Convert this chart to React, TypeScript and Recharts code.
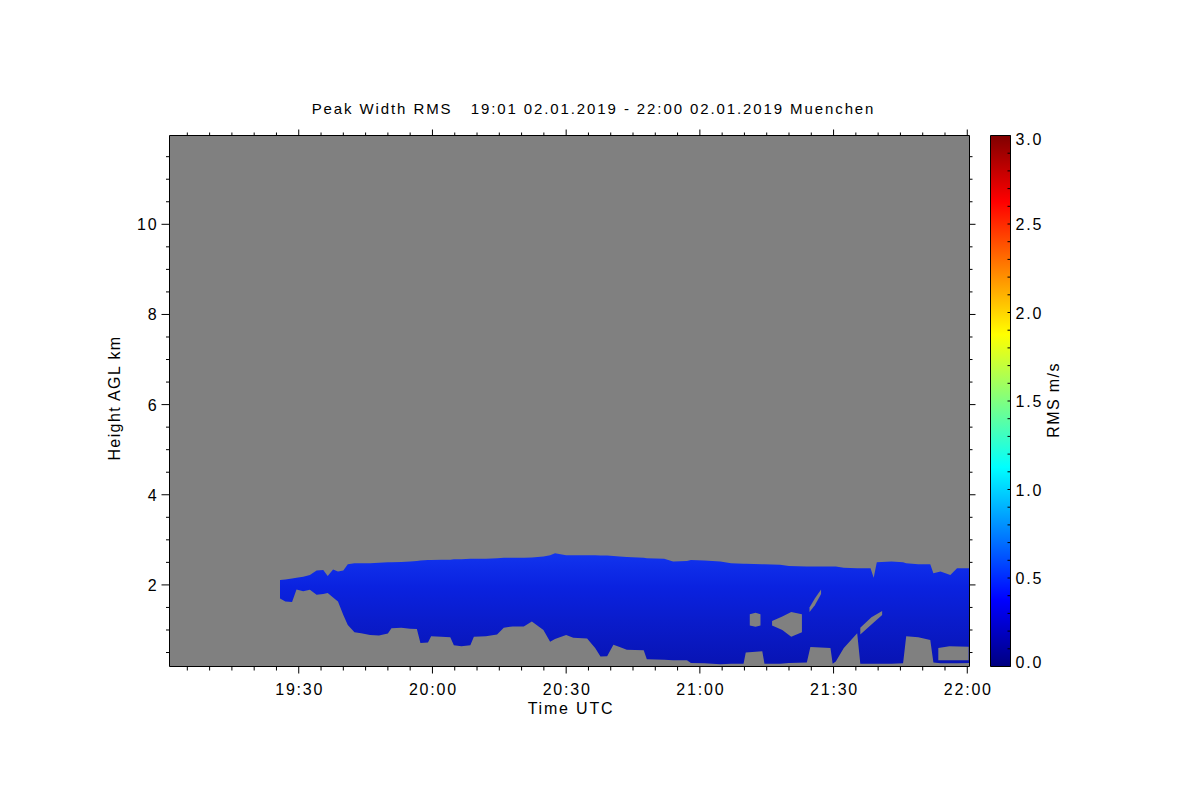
import React from "react";
import { ComposedChart, Area, XAxis, YAxis, CartesianGrid, BarChart, Bar } from "recharts";

const FONT = "'Liberation Sans', Arial, Helvetica, sans-serif";

// plot frame (px)
const PL = 169.5;
const PR = 969.5;
const PT = 135.5;
const PB = 666.5;
const CB_L = 990.5;
const CB_R = 1010.5;

// cloud layer, time in minutes after 19:00 UTC, heights in km AGL
const cloudTimes = [
	25.8, 27, 28.5, 29.5, 31, 32.5, 34, 35.5, 36.5, 37.7, 38.8, 40, 41, 42.5, 44, 46, 48, 50, 50.8,
	53, 55, 56.5, 57.3, 59, 59.7, 62, 64, 64.8, 66.5, 68.5, 69.3, 72, 74.5, 76, 78, 80.5, 82.3, 84.9,
	86.4, 87.5, 90, 91.6, 94.7, 96.5, 97.7, 99.2, 100.6, 102, 103.6, 107.4, 108.1, 112, 114, 117.1,
	118, 121, 124.6, 127, 129.8, 130.3, 134, 134.5, 138, 140, 144, 144.8, 149.3, 149.8, 150.5, 152.3,
	155.3, 156, 158.3, 159, 159.7, 163, 165.6, 166.3, 169, 171.7, 172.4, 174, 176.2, 177.7, 180.5,
];
const cloudTop = [
	2.11, 2.12, 2.14, 2.16, 2.18, 2.22, 2.32, 2.33, 2.2, 2.34, 2.3, 2.32, 2.46, 2.48, 2.48, 2.48, 2.49, 2.5, 2.5,
	2.51, 2.52, 2.53, 2.54, 2.55, 2.55, 2.56, 2.56, 2.57, 2.57, 2.58, 2.58, 2.58, 2.59, 2.6, 2.6, 2.6, 2.61, 2.63,
	2.66, 2.7, 2.66, 2.66, 2.66, 2.66, 2.65, 2.65, 2.64, 2.63, 2.62, 2.6, 2.59, 2.58, 2.52, 2.53,
	2.55, 2.54, 2.52, 2.48, 2.47, 2.47, 2.46, 2.46, 2.45, 2.42, 2.41, 2.41, 2.41, 2.41, 2.41, 2.38,
	2.37, 2.37, 2.37, 2.16, 2.5, 2.52, 2.5, 2.48, 2.46, 2.46, 2.26, 2.3, 2.22, 2.37, 2.37,
];
const cloudBase = [
	1.7, 1.63, 1.62, 1.9, 1.86, 1.89, 1.78, 1.8, 1.82, 1.72, 1.63, 1.33, 1.11, 0.95, 0.93, 0.89, 0.88, 0.92, 1.04,
	1.05, 1.03, 1.02, 0.71, 0.72, 0.86, 0.85, 0.84, 0.66, 0.64, 0.66, 0.85, 0.86, 0.9, 1.05, 1.08, 1.08, 1.19, 1.0,
	0.74, 0.8, 0.89, 0.83, 0.81, 0.6, 0.41, 0.42, 0.67, 0.62, 0.56, 0.55, 0.35, 0.34, 0.33, 0.33,
	0.27, 0.26, 0.24, 0.25, 0.25, 0.5, 0.53, 0.25, 0.25, 0.27, 0.28, 0.62, 0.6, 0.25, 0.3, 0.6,
	0.93, 0.25, 0.25, 0.25, 0.25, 0.25, 0.26, 0.86, 0.84, 0.78, 0.28, 0.26, 0.26, 0.26, 0.27,
];

// gaps without signal inside the layer
const gap1Times = [131.2, 132.5, 133.6];
const gap1Low = [1.1, 1.07, 1.1];
const gap1High = [1.35, 1.38, 1.35];

const gap2Times = [136.2, 138.5, 140.5, 142.9];
const gap2Low = [1.1, 1.0, 0.85, 0.95];
const gap2High = [1.2, 1.3, 1.4, 1.35];

const gap3Times = [144.6, 145.8, 147.2];
const gap3Low = [1.4, 1.55, 1.8];
const gap3High = [1.5, 1.7, 1.9];

const gap4Times = [156, 158.5, 160.9];
const gap4Low = [0.9, 1.12, 1.33];
const gap4High = [1.05, 1.28, 1.42];

const gap5Times = [173.5, 176, 180.3];
const gap5Low = [0.33, 0.33, 0.33];
const gap5High = [0.6, 0.64, 0.63];

// axes
const timeTicks = [
	5, 10, 15, 20, 25, 30, 35, 40, 45, 50, 55, 60, 65, 70, 75, 80, 85, 90, 95, 100, 105, 110, 115, 120,
	125, 130, 135, 140, 145, 150, 155, 160, 165, 170, 175, 180,
];
const majorTimes = [30, 60, 90, 120, 150, 180];
const timeLabels = ["19:30", "20:00", "20:30", "21:00", "21:30", "22:00"];

const heightTicks = [
	0.5, 1, 1.5, 2, 2.5, 3, 3.5, 4, 4.5, 5, 5.5, 6, 6.5, 7, 7.5, 8, 8.5, 9, 9.5, 10, 10.5, 11, 11.5,
];
const heightMajor = [2, 4, 6, 8, 10];
const heightLabels = ["2", "4", "6", "8", "10"];

const rmsTicks = [
	0, 0.1, 0.2, 0.3, 0.4, 0.5, 0.6, 0.7, 0.8, 0.9, 1, 1.1, 1.2, 1.3, 1.4, 1.5, 1.6, 1.7, 1.8, 1.9, 2,
	2.1, 2.2, 2.3, 2.4, 2.5, 2.6, 2.7, 2.8, 2.9, 3,
];
const rmsMajor = [0, 0.5, 1, 1.5, 2, 2.5, 3];
const rmsLabels = ["0.0", "0.5", "1.0", "1.5", "2.0", "2.5", "3.0"];
const colorbar = [{ k: "rms", v: 3 }];

const toRows = (t: number[], lo: number[], hi: number[]) =>
	t.map((v, i) => ({ t: v, range: [lo[i], hi[i]] }));

const findIdx = (list: number[], v: number) => list.findIndex((m) => Math.abs(m - v) < 1e-6);

const txt = { fontFamily: FONT, fontSize: 16, letterSpacing: "1.8px", fill: "#000" };

function BottomTick({ x, y, payload }: any) {
	const i = findIdx(majorTimes, payload.value);
	return (
		<g>
			<line x1={x} x2={x} y1={y} y2={y + (i >= 0 ? 7 : 4)} stroke="#000" />
			{i >= 0 && (
				<text x={x + 1} y={y + 28} textAnchor="middle" style={txt}>
					{timeLabels[i]}
				</text>
			)}
		</g>
	);
}

function TopTick({ x, y, payload }: any) {
	const major = findIdx(majorTimes, payload.value) >= 0;
	return <line x1={x} x2={x} y1={y} y2={y - (major ? 6 : 3)} stroke="#000" />;
}

function LeftTick({ x, y, payload }: any) {
	const i = findIdx(heightMajor, payload.value);
	return (
		<g>
			<line x1={x} x2={x - (i >= 0 ? 8 : 3.5)} y1={y} y2={y} stroke="#000" />
			{i >= 0 && (
				<text x={x - 11} y={y + 6} textAnchor="end" style={txt}>
					{heightLabels[i]}
				</text>
			)}
		</g>
	);
}

function RightTick({ x, y, payload }: any) {
	const major = findIdx(heightMajor, payload.value) >= 0;
	return <line x1={x} x2={x + (major ? 6 : 3)} y1={y} y2={y} stroke="#000" />;
}

function RmsTick({ x, y, payload }: any) {
	const i = findIdx(rmsMajor, payload.value);
	const shift = payload.value === 0 ? -5 : payload.value === 3 ? 3 : 0;
	return (
		<g>
			<line x1={x} x2={x - 3} y1={y} y2={y} stroke="#000" />
			{i >= 0 && (
				<text x={x + 5} y={y + 6 + shift} textAnchor="start" style={txt}>
					{rmsLabels[i]}
				</text>
			)}
		</g>
	);
}

const gapProps = {
	dataKey: "range",
	xAxisId: "b",
	yAxisId: "l",
	type: "linear" as const,
	stroke: "none",
	fill: "#808080",
	fillOpacity: 1,
	isAnimationActive: false,
	dot: false,
	activeDot: false,
};

export default function App() {
	return (
		<div style={{ position: "absolute", left: 0, top: 0, width: 1200, height: 800, background: "#fff" }}>
			<div style={{ position: "absolute", left: 0, top: 0 }}>
				<ComposedChart
					width={1200}
					height={800}
					margin={{ top: PT - 10, right: 1200 - PR - 10, bottom: 800 - PB - 30, left: PL - 40 }}
				>
					<defs>
						<linearGradient id="cloudFill" x1="0" y1="0" x2="0" y2="1">
							<stop offset="0%" stopColor="#1234ee" />
							<stop offset="30%" stopColor="#0a22e0" />
							<stop offset="60%" stopColor="#0a1ccc" />
							<stop offset="100%" stopColor="#0814b4" />
						</linearGradient>
					</defs>
					<CartesianGrid xAxisId="b" yAxisId="l" horizontal={false} vertical={false} fill="#808080" fillOpacity={1} />
					<XAxis
						xAxisId="b"
						dataKey="t"
						type="number"
						domain={[1, 180.5]}
						allowDataOverflow
						ticks={timeTicks}
						interval={0}
						height={30}
						tickSize={0}
						tickMargin={0}
						tickLine={false}
						axisLine={{ stroke: "#000" }}
						tick={<BottomTick />}
					/>
					<XAxis
						xAxisId="t"
						orientation="top"
						dataKey="t"
						type="number"
						domain={[1, 180.5]}
						allowDataOverflow
						ticks={timeTicks}
						interval={0}
						height={10}
						tickSize={0}
						tickMargin={0}
						tickLine={false}
						axisLine={{ stroke: "#000" }}
						tick={<TopTick />}
					/>
					<YAxis
						yAxisId="l"
						type="number"
						domain={[0.19, 11.97]}
						allowDataOverflow
						ticks={heightTicks}
						interval={0}
						width={40}
						tickSize={0}
						tickMargin={0}
						tickLine={false}
						axisLine={{ stroke: "#000" }}
						tick={<LeftTick />}
					/>
					<YAxis
						yAxisId="r"
						orientation="right"
						type="number"
						domain={[0.19, 11.97]}
						allowDataOverflow
						ticks={heightTicks}
						interval={0}
						width={10}
						tickSize={0}
						tickMargin={0}
						tickLine={false}
						axisLine={{ stroke: "#000" }}
						tick={<RightTick />}
					/>
					<Area
						data={toRows(cloudTimes, cloudBase, cloudTop)}
						dataKey="range"
						xAxisId="b"
						yAxisId="l"
						type="linear"
						stroke="none"
						fill="url(#cloudFill)"
						fillOpacity={1}
						isAnimationActive={false}
						dot={false}
						activeDot={false}
					/>
					<Area data={toRows(gap1Times, gap1Low, gap1High)} {...gapProps} />
					<Area data={toRows(gap2Times, gap2Low, gap2High)} {...gapProps} />
					<Area data={toRows(gap3Times, gap3Low, gap3High)} {...gapProps} />
					<Area data={toRows(gap4Times, gap4Low, gap4High)} {...gapProps} />
					<Area data={toRows(gap5Times, gap5Low, gap5High)} {...gapProps} />
				</ComposedChart>
			</div>
			<div style={{ position: "absolute", left: 0, top: 0 }}>
				<BarChart
					width={1200}
					height={800}
					data={colorbar}
					barCategoryGap={0}
					margin={{ top: PT, right: 1200 - CB_R - 40, bottom: 800 - PB, left: CB_L }}
				>
					<defs>
						<linearGradient id="jet" x1="0" y1="1" x2="0" y2="0">
							<stop offset="0%" stopColor="#000080" />
							<stop offset="12.5%" stopColor="#0000ff" />
							<stop offset="37.5%" stopColor="#00ffff" />
							<stop offset="62.5%" stopColor="#ffff00" />
							<stop offset="87.5%" stopColor="#ff0000" />
							<stop offset="100%" stopColor="#800000" />
						</linearGradient>
					</defs>
					<XAxis dataKey="k" type="category" hide />
					<YAxis
						orientation="right"
						type="number"
						domain={[0, 3]}
						ticks={rmsTicks}
						interval={0}
						width={40}
						tickSize={0}
						tickMargin={0}
						tickLine={false}
						axisLine={false}
						tick={<RmsTick />}
					/>
					<Bar dataKey="v" fill="url(#jet)" stroke="#000" strokeWidth={1} isAnimationActive={false} />
				</BarChart>
			</div>
			<svg width={1200} height={800} style={{ position: "absolute", left: 0, top: 0, pointerEvents: "none" }}>
				<text x={593.5} y={114} textAnchor="middle" style={{ ...txt, fontSize: 15, letterSpacing: "1.9px" }}>
					Peak Width RMS{"\u00a0\u00a0\u00a0"}19:01 02.01.2019 - 22:00 02.01.2019 Muenchen
				</text>
				<text x={571} y={714} textAnchor="middle" style={txt}>
					Time UTC
				</text>
				<text x={120} y={398} textAnchor="middle" transform="rotate(-90 120 398)" style={{ ...txt, letterSpacing: "1.4px" }}>
					Height AGL km
				</text>
				<text x={1059} y={400} textAnchor="middle" transform="rotate(-90 1059 400)" style={{ ...txt, letterSpacing: "1.4px" }}>
					RMS m/s
				</text>
			</svg>
		</div>
	);
}
